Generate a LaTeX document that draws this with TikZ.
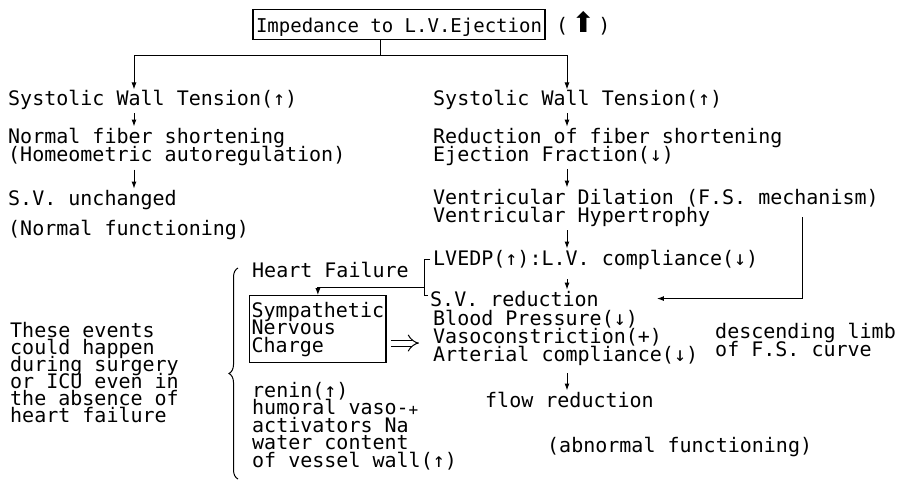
\documentclass[tikz,border=0pt]{standalone}
\usepackage{fontspec}
\setmonofont{DejaVu Sans Mono}
\newfontfamily\symfont{DejaVu Sans}
\usetikzlibrary{positioning, arrows.meta, decorations.pathreplacing}

\newcommand{\typed}[1]{\ttfamily\fontsize{20}{#1}\selectfont\lineskiplimit=-100pt}

\begin{document}
\begin{tikzpicture}[x=1pt, y=-1pt,
    txt/.style={anchor=base west, inner sep=0pt, align=left, font=\typed{18}},
    wire/.style={line width=1pt},
    arr/.style={wire, -{Latex[length=7pt, width=5pt]}},
    dbl/.style={line width=1pt, double, double distance=5pt, -{Implies}},
    framed/.style={draw, line width=1.3pt}]
    \useasboundingbox (0,0) rectangle (901,482);

    \node[framed, anchor=base, font=\ttfamily\fontsize{19}{19}\selectfont, inner xsep=3pt, inner ysep=1.5pt, text height=21pt, text depth=6pt] (imp) at (399,32) {Impedance to L.V.Ejection};
    \node[txt] (upmark) at (556,32) {(\,{\symfont\fontsize{28}{28}\selectfont ⬆}\,)};

    \node[txt] (swtL) at (8,105) {Systolic Wall Tension(↑)};
    \node[txt] (nfL) at (8,161) {Normal fiber shortening\\(Homeometric autoregulation)};
    \node[txt] (svL) at (8,205) {S.V. unchanged};
    \node[txt] (normL) at (8,235) {(Normal functioning)};

    \node[txt] (swtR) at (433,105) {Systolic Wall Tension(↑)};
    \node[txt] (rfs) at (433,161) {Reduction of fiber shortening\\Ejection Fraction(↓)};
    \node[txt] (vdh) at (433,222) {Ventricular Dilation (F.S. mechanism)\\Ventricular Hypertrophy};
    \node[txt] (lvedp) at (433,265) {LVEDP(↑):L.V. compliance(↓)};
    \node[txt] (svr) at (430,306) {S.V. reduction};
    \node[txt] (bp) at (433,361) {Blood Pressure(↓)\\Vasoconstriction(+)\\Arterial compliance(↓)};
    \node[txt] (flow) at (485,407) {flow reduction};
    \node[txt] (abn) at (547,452) {(abnormal functioning)};

    \node[txt] (hf) at (252,277) {Heart Failure};
    \node[txt, framed, font=\typed{17.5}, inner xsep=2pt, inner ysep=6pt] (snc) at (249,352) {Sympathetic\\Nervous\\Charge};
    \node[txt, font=\typed{17.5}] (renin) at (252,467) {renin(↑)\\humoral vaso-\\activators Na\raisebox{17pt}{\fontsize{16}{16}\selectfont+}\\water content\\of vessel wall(↑)};
    \node[txt, font=\typed{17}] (events) at (10,422) {These events\\could happen\\during surgery\\or ICU even in\\the absence of\\heart failure};
    \node[txt] (fscurve) at (715,356) {descending limb\\of F.S. curve};

    \coordinate (split) at (380,55);
    \coordinate (colL) at (134,0);
    \coordinate (colR) at (567,0);
    \coordinate (fsTop) at (802,217);
    \coordinate (brMid) at (424,287);
    \coordinate (brcTop) at (238,268);
    \coordinate (brcBot) at (238,479);
    \path ([yshift=-14pt]snc.east) coordinate (dblStart);

    \draw[wire] (imp.south -| split) -- (split);
    \draw[arr] (split) -| (colL |- swtL.north);
    \draw[arr] (split) -| (colR |- swtR.north);

    \path[arr, shorten <=4pt, shorten >=1pt]
        (colL |- swtL.south) edge (colL |- nfL.north)
        (colL |- nfL.south) edge (colL |- svL.north)
        (colR |- swtR.south) edge (colR |- rfs.north)
        (colR |- rfs.south) edge (colR |- vdh.north)
        (colR |- vdh.south) edge (colR |- lvedp.north)
        (colR |- lvedp.south) edge[shorten <=10pt] (colR |- svr.north)
        (colR |- bp.south) edge[shorten <=8pt] (colR |- flow.north);

    \draw[arr, shorten >=58pt] (fsTop) |- (svr.east);
    \draw[wire] ([xshift=-3pt, yshift=-10pt]lvedp.north west) -- ++(-6,0) |- ([xshift=-2pt, yshift=-5pt]svr.north west);
    \draw[arr] (brMid) -| (snc.north);
    \draw[dbl, shorten <=4pt, shorten >=14pt] (dblStart) -- (dblStart -| bp.west);
    \draw[wire, decorate, decoration={brace, amplitude=9pt}] (brcBot) -- (brcTop);
\end{tikzpicture}
\end{document}
